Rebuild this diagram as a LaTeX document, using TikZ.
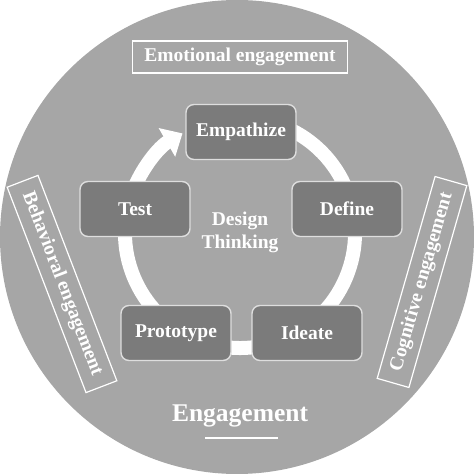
\documentclass[tikz,border=0pt]{standalone}
\usepackage{fontspec}
\setmainfont{Liberation Serif}
\usetikzlibrary{arrows.meta}

\definecolor{discgray}{HTML}{A6A6A6}
\definecolor{stepgray}{HTML}{7B7B7B}
\definecolor{edgegray}{HTML}{DEDEDE}

\tikzset{
  phase/.style={draw=edgegray, line width=1.4pt, fill=stepgray, rounded corners=8pt,
    text=white, font=\fontsize{19.5}{23}\selectfont\bfseries,
    minimum width=110pt, minimum height=55pt, inner sep=0pt},
  facet/.style={draw=white, line width=1.2pt, text=white,
    font=\fontsize{19.5}{23}\selectfont\bfseries, inner sep=0pt}
}

\begin{document}
\begin{tikzpicture}[x=1pt, y=1pt]
            \useasboundingbox (0,0) rectangle (474,474);

            % Disc
            \fill[discgray] (237,237) circle (237);

            % Cycle
            \coordinate (hub) at (240,241);
            \draw[white, line width=14pt, -{Triangle[width=32pt,length=18pt]}]
              ([shift={(70:115)}]hub) arc[start angle=70, end angle=-240, radius=115];

            % Title
            \node[facet, minimum width=215pt, minimum height=32pt] (emo) at (240,417) {Emotional engagement};

            % Nodes
            \node[phase] (emp) at (241,342) {Empathize};
            \node[phase] (def) at (347,265) {Define};
            \node[phase] (ide) at (307,141) {Ideate};
            \node[phase] (pro) at (176,141) {Prototype};
            \node[phase] (tes) at (135,265) {Test};
            \node[text=white, font=\fontsize{19.5}{23}\selectfont\bfseries, align=center] (dt) at (240,242) {Design\\Thinking};

            % Sides
            \node[facet, rotate=-69, minimum width=220pt, minimum height=33pt] (beh) at (62,190) {Behavioral engagement};
            \node[facet, rotate=74, minimum width=210pt, minimum height=33pt] (cog) at (422,192) {Cognitive engagement};

            % Bottom
            \node[text=white, font=\fontsize{25.5}{28}\selectfont\bfseries] (eng) at (240,58) {Engagement};
            \draw[white, line width=2pt] (205,36) -- (278,36);
        \end{tikzpicture}
\end{document}
